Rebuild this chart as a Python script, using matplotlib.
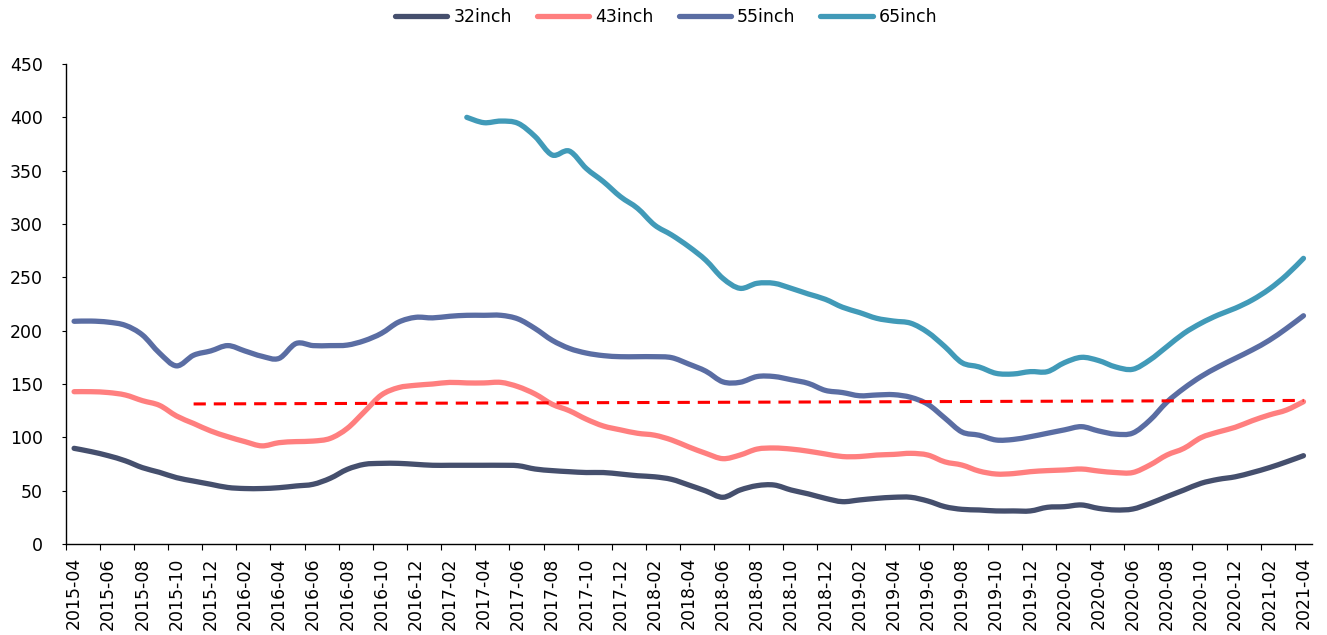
import matplotlib
matplotlib.use("Agg")
import matplotlib.pyplot as plt
from matplotlib.path import Path
from matplotlib.patches import PathPatch
from matplotlib.lines import Line2D
import numpy as np
import pandas as pd

plt.rcParams['font.family'] = ['DejaVu Sans']

months = pd.period_range("2015-04", "2021-04", freq="M").strftime("%Y-%m").tolist()

s32 = [89.7, 86.6, 82.8, 78, 71.6, 67.2, 62.2, 59, 56, 53, 52, 52, 52.8, 54.4, 56, 61.6,
       70, 74.7, 75.6, 75.6, 74.7, 73.8, 73.8, 73.8, 73.8, 73.8, 73.4, 70.3, 68.8, 67.8,
       67, 67, 65.6, 64, 63, 60.6, 55.3, 49.7, 43.8, 50.6, 54.7, 55.3, 50.6, 47, 42.8,
       39.7, 41.3, 42.8, 43.8, 43.8, 40.3, 35, 32.5, 31.9, 31, 31, 31, 34.4, 35, 36.6,
       33.4, 31.9, 32.8, 38, 44.4, 50.6, 56.9, 60.6, 63, 67, 71.6, 77, 82.8]

s43 = [142.8, 142.8, 142, 139.7, 134.4, 130, 120, 113, 106, 100.6, 96, 92, 95, 96, 96.5,
       99, 108.4, 124, 139.7, 146.6, 148.8, 150, 151.5, 151, 151, 151.5, 147.5, 140.6,
       131, 125, 117, 110.6, 107, 103.8, 102, 97.5, 91, 85, 80, 83.4, 89, 90, 89, 87,
       84.4, 82, 82, 83.4, 84, 85, 83.4, 77, 74, 68.4, 65.6, 66, 67.8, 68.8, 69.4, 70.3,
       68.4, 67, 67, 74, 83.4, 89.7, 99.7, 105, 109.4, 115.6, 121, 125.6, 133.4]

s55 = [208.8, 209, 208, 205, 196, 179, 167, 177, 181, 186, 181, 176, 174, 188, 186, 186,
       186.5, 190.6, 197.5, 208, 212.5, 212, 213.5, 214.4, 214.4, 214.4, 211, 202, 191,
       183.4, 179, 176.6, 175.6, 175.6, 175.6, 174.7, 168.7, 162, 152, 151.6, 157, 157,
       154, 150.6, 144, 142, 139, 139.7, 140, 137.5, 131, 118, 105, 102, 97.5, 98, 100.6,
       103.8, 107, 110, 106, 103, 104, 116, 133, 146, 157, 166, 174, 182, 191, 202, 214]

s65 = [np.nan] * 23 + [400, 395, 396.5, 394.4, 382, 364.7, 368.4, 352, 339.7, 325.6, 314.7,
       299, 289.7, 278.8, 266, 249, 239.7, 244.4, 244.4, 239.7, 234.4, 229.4, 222, 217,
       211.6, 209, 207, 198.4, 185, 170, 166, 160, 159.4, 161.6, 161.6, 170, 175, 172,
       166, 163.8, 172.5, 185, 197.5, 207, 214.7, 221, 228.8, 239, 252, 267.8]

ref_months = ["2015-11", "2021-04"]
ref_values = [131.3, 134.6]

series = [("32inch", s32, "#454F6D"), ("43inch", s43, "#FF7F7F"),
          ("55inch", s55, "#5A6DA3"), ("65inch", s65, "#419AB8")]


def smooth_path(xs, ys):
    """Excel-style smoothed line: cubic Bezier through the data points."""
    xs = np.asarray(xs, float)
    ys = np.asarray(ys, float)
    ok = ~np.isnan(ys)
    xs, ys = xs[ok], ys[ok]
    P = np.column_stack([xs, ys])
    n = len(P)
    verts = [P[0]]
    codes = [Path.MOVETO]
    for i in range(n - 1):
        p0 = P[i - 1] if i > 0 else P[i]
        p1 = P[i]
        p2 = P[i + 1]
        p3 = P[i + 2] if i + 2 < n else P[i + 1]
        c1 = p1 + (p2 - p0) / 6.0
        c2 = p2 - (p3 - p1) / 6.0
        verts += [c1, c2, p2]
        codes += [Path.CURVE4] * 3
    return Path(verts, codes)


fig = plt.figure(figsize=(13.27, 6.35), dpi=100)
ax = fig.add_axes([0.0494, 0.1433, 0.9393, 0.7559])

x = np.arange(len(months))
handles = []
for name, vals, col in series:
    patch = PathPatch(smooth_path(x, vals), facecolor='none', edgecolor=col, lw=3.8,
                      capstyle='round', joinstyle='round')
    ax.add_patch(patch)
    handles.append(Line2D([], [], color=col, lw=3.8, solid_capstyle='round', label=name))

rx = [months.index(m) for m in ref_months]
ax.plot(rx, ref_values, color="#FF0000", lw=2.2, dashes=(4, 2.6))

ax.set_xlim(-0.5, len(months) - 0.5)
ax.set_ylim(0, 450)
ax.set_yticks(np.arange(0, 451, 50))
ax.tick_params(axis='y', labelsize=12.5, length=3, direction='out', pad=13.5)

ax.set_xticks(np.arange(-0.5, len(months) - 1, 2))
ax.set_xticklabels([])
ax.set_xticks(x[::2], minor=True)
ax.set_xticklabels(months[::2], minor=True, rotation=90, fontsize=12.5)
ax.tick_params(axis='x', which='major', length=4, direction='out')
ax.tick_params(axis='x', which='minor', length=0, pad=9.5)

for sp in ['top', 'right']:
    ax.spines[sp].set_visible(False)
for sp in ['left', 'bottom']:
    ax.spines[sp].set_linewidth(1.0)

fig.legend(handles=handles, loc='center', bbox_to_anchor=(0.502, 0.973), ncol=4,
           frameon=False, fontsize=12.5, handlelength=3.0, columnspacing=1.45,
           handletextpad=0.35)

fig.savefig("out.png", dpi=100)
